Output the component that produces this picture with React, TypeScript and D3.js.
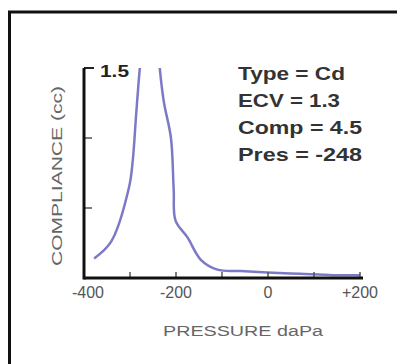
import React from "react";
import * as d3 from "d3";

const pressures = [-378, -341, -302, -294, -287, -281, -270, -258, -248, -238, -227, -211, -205, -201, -175, -146, -110, -60, -1, 70, 142, 200];
const compliance = [0.14, 0.26, 0.65, 0.84, 1.15, 1.41, 1.8, 2.1, 2.2, 1.6, 1.27, 1.0, 0.63, 0.41, 0.29, 0.13, 0.06, 0.05, 0.04, 0.03, 0.02, 0.02];
const xTicks = [-400, -200, 0, 200];
const xTickLabels = ["-400", "-200", "0", "+200"];
const yTicks = [0.5, 1.0];
const infoLines = ["Type = Cd", "ECV = 1.3", "Comp = 4.5", "Pres = -248"];

export default function App() {
  const W = 397, H = 364;
  const x = d3.scaleLinear().domain([-400, 200]).range([84, 360]);
  const y = d3.scaleLinear().domain([0, 1.5]).range([278, 68]);
  const pts: [number, number][] = pressures.map((p, i) => [p, compliance[i]]);
  const line = d3.line<[number, number]>().x(d => x(d[0])).y(d => y(d[1])).curve(d3.curveCatmullRom.alpha(0.5));
  const minorTicks = d3.range(-400, 201, 100);
  return (
    <svg width={W} height={H} style={{ position: "absolute", left: 0, top: 0 }}>
      <rect x={0} y={0} width={W} height={H} fill="#ffffff" />
      <rect x={9.5} y={12} width={W + 10} height={H + 10} fill="none" stroke="#111" strokeWidth={3} />
      <defs>
        <clipPath id="plotclip">
          <rect x={x(-400)} y={y(1.5)} width={x(200) - x(-400) + 2} height={y(0) - y(1.5)} />
        </clipPath>
      </defs>
      <path d={line(pts) || ""} fill="none" stroke="#7c7ac6" strokeWidth={2.5} clipPath="url(#plotclip)" />
      {minorTicks.map(t => (
        <line key={"m" + t} x1={x(t)} x2={x(t)} y1={y(0)} y2={y(0) - 6} stroke="#555" strokeWidth={1.5} />
      ))}
      {yTicks.map(t => (
        <line key={"y" + t} x1={x(-400)} x2={x(-400) + 8} y1={y(t)} y2={y(t)} stroke="#555" strokeWidth={1.5} />
      ))}
      <line x1={x(-400)} x2={x(-400) + 10} y1={y(1.5)} y2={y(1.5)} stroke="#222" strokeWidth={2} />
      <line x1={x(-400)} x2={x(-400)} y1={y(1.5)} y2={y(0) + 1.5} stroke="#111" strokeWidth={3} />
      <line x1={x(-400)} x2={x(200) + 3} y1={y(0)} y2={y(0)} stroke="#111" strokeWidth={3} />
      <text x={100} y={77} fontFamily="Liberation Sans, Arial, sans-serif" fontWeight="bold" fontSize={17} fill="#222" textLength={29} lengthAdjust="spacingAndGlyphs">1.5</text>
      {xTicks.map((t, i) => (
        <text key={"xt" + t} x={x(t) + (i === 0 ? 4 : 0)} y={298} textAnchor="middle" fontFamily="Liberation Sans, Arial, sans-serif" fontSize={16} fill="#555">{xTickLabels[i]}</text>
      ))}
      <text x={243} y={336} textAnchor="middle" fontFamily="Liberation Sans, Arial, sans-serif" fontSize={14} fill="#666" textLength={160} lengthAdjust="spacingAndGlyphs">PRESSURE daPa</text>
      <text transform="translate(62,176) rotate(-90)" textAnchor="middle" fontFamily="Liberation Sans, Arial, sans-serif" fontSize={14} fill="#666" textLength={180} lengthAdjust="spacingAndGlyphs">COMPLIANCE (cc)</text>
      {infoLines.map((s, i) => (
        <text key={s} x={238} y={80 + i * 27} fontFamily="Liberation Sans, Arial, sans-serif" fontWeight="bold" fontSize={19} fill="#333" textLength={[107, 102, 124, 124][i]} lengthAdjust="spacingAndGlyphs">{s}</text>
      ))}
    </svg>
  );
}
